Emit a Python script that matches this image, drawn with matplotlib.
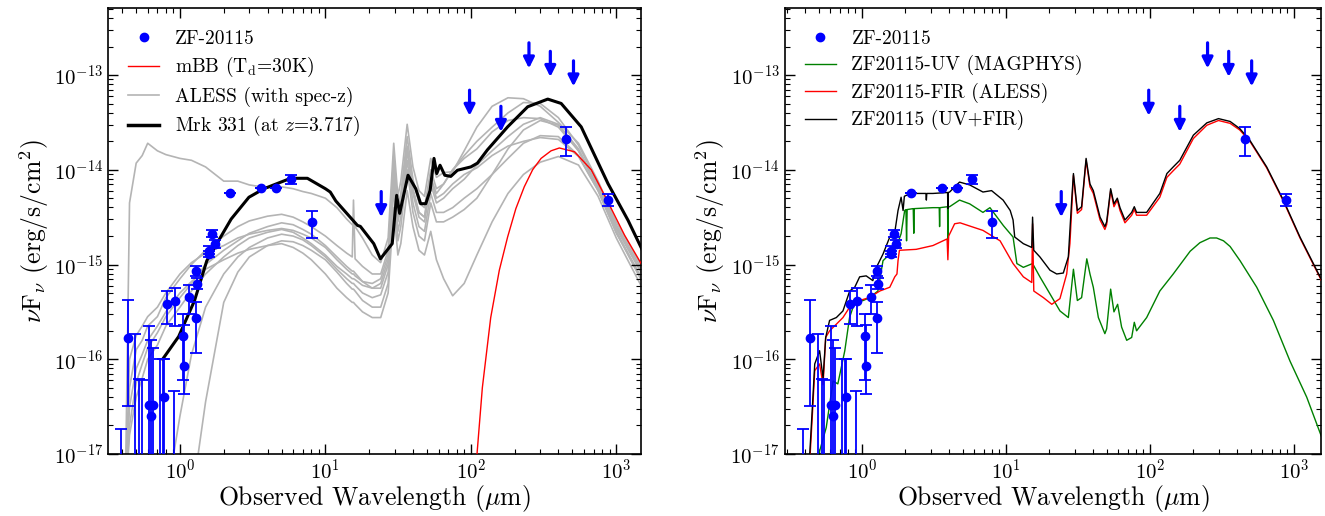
import matplotlib
matplotlib.use('Agg')
import matplotlib.pyplot as plt
from matplotlib.lines import Line2D
import numpy as np

plt.rcParams['font.family'] = 'serif'
plt.rcParams['font.serif'] = ['cmr10']
plt.rcParams['mathtext.fontset'] = 'cm'
plt.rcParams['axes.formatter.use_mathtext'] = True

# ---- ZF-20115 photometry (um, erg/s/cm2), lower / upper ends of error bars
phot_wave = [0.392, 0.436, 0.492, 0.524, 0.547, 0.608, 0.648, 0.634, 0.73, 0.76,
             0.78, 0.905, 0.82, 0.92, 1.05, 1.07, 1.15, 1.28, 1.30, 1.28,
             1.58, 1.58, 1.66, 1.73, 2.20, 3.62, 4.57, 5.83, 8.05, 454, 881]
phot_flux = [3e-18, 1.66e-16, 3e-18, 3e-18, 3e-18, 3.3e-17, 3.3e-17, 2.5e-17, 3e-18, 3e-18,
             4.0e-17, 3e-18, 3.84e-16, 4.1e-16, 1.74e-16, 8.5e-17, 4.5e-16, 8.5e-16, 6.3e-16, 2.75e-16,
             1.4e-15, 1.3e-15, 2.11e-15, 1.63e-15, 5.7e-15, 6.4e-15, 6.4e-15, 7.9e-15, 2.8e-15, 2.09e-14, 4.84e-15]
phot_lo = [2e-18, 3.2e-17, 2e-18, 2e-18, 2e-18, 2e-18, 2e-18, 2e-18, 2e-18, 2e-18,
           2e-18, 2e-18, 2.34e-16, 2.26e-16, 6e-17, 4.3e-17, 3.0e-16, 7.5e-16, 5.5e-16, 1.17e-16,
           1.3e-15, 1.2e-15, 1.95e-15, 1.5e-15, 5.7e-15, 6.4e-15, 6.4e-15, 7.1e-15, 1.92e-15, 1.39e-14, 4.1e-15]
phot_hi = [1.84e-17, 4.2e-16, 1.86e-16, 6.2e-17, 6.0e-17, 2.26e-16, 1.33e-16, 1.6e-16, 1.0e-16, 1.0e-16,
           1.0e-16, 4.6e-17, 5.2e-16, 5.7e-16, 3.0e-16, 2.3e-16, 6.1e-16, 9.6e-16, 7.2e-16, 4.0e-16,
           1.55e-15, 1.4e-15, 2.3e-15, 1.8e-15, 5.7e-15, 6.4e-15, 6.4e-15, 8.9e-15, 3.66e-15, 2.8e-14, 5.5e-15]

# upper limits (arrow tips)
ulim_wave = [24.2, 98, 161, 251, 352, 508]
ulim_logf = [-14.50, -13.43, -13.60, -12.93, -13.02, -13.12]

# ---- left panel models (log10 nuFnu)
mbb_wave = [110, 120, 137, 157, 179, 204, 233, 266, 304, 356, 406, 516, 673, 877, 1140, 1535]
mbb_logf = [-17.02, -16.30, -15.56, -15.06, -14.71, -14.41, -14.18, -14.0, -13.88, -13.80,
            -13.77, -13.81, -14.0, -14.34, -14.69, -15.03]

mrk_wave = [0.76, 0.98, 1.26, 1.53, 2.25, 2.98, 3.78, 5.77, 7.52, 10.0,
            10.8, 11.8, 16.6, 17.4, 21.5, 23.9, 28.8, 30.9, 32.4, 37.0,
            41.8, 45.2, 49.0, 52.5, 55.8, 58.3, 61.4, 66.2, 72.8, 80.9,
            100, 111, 130, 179, 246, 338, 418, 574, 877, 1205, 1535]
mrk_logf = [-16.0, -15.76, -15.38, -14.96, -14.52, -14.29, -14.20, -14.09, -14.09, -14.20,
            -14.235, -14.33, -14.587, -14.598, -14.78, -14.94, -14.78, -14.27, -14.46, -14.058,
            -14.20, -14.358, -14.358, -14.217, -13.88, -14.04, -13.952, -14.058, -14.07, -14.005,
            -13.97, -13.93, -13.79, -13.547, -13.335, -13.254, -13.30, -13.547, -14.146, -14.534, -14.87]

aless_wave = [0.42, 0.45, 0.5, 0.55, 0.6, 0.7, 0.8, 1.0, 1.2, 1.5,
              2.0, 2.5, 3.0, 4.0, 5.0, 6.0, 7.0, 8.0, 10, 12,
              14, 15.3, 15.6, 16, 18, 21, 24, 27, 29.5, 31.5,
              33, 36.5, 40, 44, 48, 53, 58, 65, 75, 90,
              110, 140, 180, 230, 300, 400, 550, 750, 1000, 1500]
aless_logf = [
    [-17.5, -14.35, -13.93, -13.85, -13.72, -13.80, -13.84, -13.88, -13.90, -13.97,
     -14.12, -14.12, -14.16, -14.19, -14.18, -14.20, -14.23, -14.25, -14.30, -14.40,
     -14.52, -14.58, -14.58, -14.60, -14.72, -14.90, -14.98, -14.72, -13.72, -14.28,
     -14.12, -13.52, -13.97, -14.22, -14.28, -13.88, -14.08, -14.03, -14.02, -13.80,
     -13.55, -13.33, -13.24, -13.25, -13.33, -13.50, -13.72, -14.12, -14.55, -15.02],
    [-17.5, -16.3, -15.9, -15.8, -15.65, -15.55, -15.35, -15.15, -15.0, -14.85,
     -14.7, -14.6, -14.54, -14.49, -14.47, -14.5, -14.55, -14.6, -14.7, -14.8,
     -14.88, -14.92, -14.32, -14.94, -15.02, -15.1, -15.1, -14.85, -13.85, -14.4,
     -14.25, -13.65, -14.1, -14.35, -14.4, -14.0, -14.2, -14.15, -14.0, -13.85,
     -13.7, -13.55, -13.4, -13.29, -13.3, -13.45, -13.74, -14.15, -14.58, -15.05],
    [-17.5, -16.7, -16.25, -16.05, -15.88, -15.72, -15.55, -15.35, -15.2, -15.0,
     -14.85, -14.75, -14.67, -14.6, -14.56, -14.58, -14.63, -14.68, -14.8, -14.92,
     -15.02, -15.07, -15.07, -15.09, -15.18, -15.25, -15.25, -15.0, -14.0, -14.55,
     -14.4, -13.8, -14.25, -14.5, -14.55, -14.15, -14.35, -14.3, -14.2, -14.1,
     -13.95, -13.8, -13.65, -13.52, -13.45, -13.52, -13.78, -14.18, -14.62, -15.1],
    [-17.5, -17.5, -17.5, -17.5, -17.5, -17.5, -17.5, -17.5, -17.5, -16.45,
     -15.4, -15.08, -14.92, -14.8, -14.75, -14.76, -14.8, -14.85, -14.95, -15.08,
     -15.2, -15.26, -15.26, -15.28, -15.38, -15.45, -15.45, -15.2, -14.2, -14.75,
     -14.6, -14.0, -14.45, -14.7, -14.75, -14.35, -14.55, -14.55, -14.5, -14.42,
     -14.3, -14.05, -13.78, -13.58, -13.48, -13.53, -13.8, -14.2, -14.65, -15.15],
    [-17.5, -17.5, -17.5, -17.5, -17.5, -17.5, -17.5, -16.6, -15.95, -15.45,
     -15.1, -14.92, -14.82, -14.72, -14.68, -14.7, -14.74, -14.8, -14.92, -15.05,
     -15.15, -15.2, -15.2, -15.22, -15.3, -15.35, -15.32, -15.08, -14.1, -14.65,
     -14.5, -13.9, -14.35, -14.6, -14.65, -14.25, -14.45, -14.45, -14.4, -14.3,
     -14.2, -14.05, -13.88, -13.72, -13.64, -13.65, -13.85, -14.22, -14.66, -15.18],
    [-17.5, -16.5, -16.1, -15.95, -15.8, -15.65, -15.5, -15.3, -15.18, -15.05,
     -14.95, -14.88, -14.84, -14.8, -14.78, -14.82, -14.88, -14.95, -15.1, -15.25,
     -15.35, -15.4, -15.4, -15.42, -15.5, -15.56, -15.56, -15.3, -14.4, -14.9,
     -14.78, -14.22, -14.6, -14.85, -14.9, -14.65, -14.95, -15.15, -15.33, -15.2,
     -14.9, -14.55, -14.25, -14.05, -13.92, -13.86, -13.95, -14.28, -14.72, -15.24],
    [-17.5, -16.0, -15.75, -15.65, -15.55, -15.45, -15.3, -15.1, -14.98, -14.88,
     -14.8, -14.72, -14.68, -14.64, -14.62, -14.64, -14.68, -14.72, -14.82, -14.95,
     -15.05, -15.1, -15.1, -15.12, -15.18, -15.2, -15.15, -14.9, -13.95, -14.5,
     -14.35, -13.75, -14.2, -14.45, -14.5, -14.1, -14.3, -14.25, -14.15, -14.05,
     -13.98, -13.85, -13.75, -13.7, -13.66, -13.68, -13.86, -14.22, -14.67, -15.15],
    [-17.5, -16.8, -16.4, -16.2, -16.0, -15.85, -15.65, -15.45, -15.28, -15.1,
     -14.92, -14.8, -14.72, -14.66, -14.63, -14.66, -14.72, -14.78, -14.9, -15.02,
     -15.1, -15.15, -15.15, -15.16, -15.22, -15.25, -15.2, -14.95, -13.98, -14.52,
     -14.38, -13.78, -14.22, -14.45, -14.5, -14.08, -14.25, -14.15, -14.0, -13.88,
     -13.78, -13.6, -13.48, -13.45, -13.46, -13.55, -13.8, -14.18, -14.6, -15.08],
]

# ---- right panel models (log10 nuFnu)
sum_wave = [0.434, 0.454, 0.47, 0.508, 0.537, 0.56, 0.596, 0.664, 0.738, 0.822,
            0.891, 0.964, 1.07, 1.19, 1.26, 1.40, 1.56, 1.69, 1.78, 1.87,
            1.93, 1.97, 2.03, 2.38, 2.78, 2.80, 2.82, 3.11, 3.93, 3.95, 3.97, 4.06,
            4.76, 5.60, 6.92, 7.94, 9.55, 10.7, 11.2, 11.5, 13.2, 15.1, 15.3, 15.6,
            17.2, 20.2, 22.5, 25.0, 27.1, 28.6, 29.4, 31.3, 33.5, 36.0,
            38.3, 40.4, 45.0, 48.6, 50.0, 53.3, 56.2, 59.3, 61.9, 67.0,
            74.6, 77.8, 80.7, 94.8, 117, 131, 145, 161, 200, 248,
            299, 360, 420, 494, 646, 843, 1100, 1563]
sum_logf = [-17.0, -16.47, -16.05, -15.91, -16.2, -15.77, -15.59, -15.56, -15.49, -15.28,
            -15.24, -15.13, -15.12, -15.17, -15.03, -14.89, -14.71, -14.66, -14.43, -14.29,
            -14.43, -14.28, -14.27, -14.25, -14.25, -14.32, -14.25, -14.25, -14.24, -14.41, -14.24, -14.235,
            -14.13, -14.16, -14.235, -14.22, -14.32, -14.43, -14.53, -14.71, -14.78, -14.82, -14.5, -14.85,
            -14.92, -15.06, -15.10, -15.09, -14.92, -14.32, -14.04, -14.43, -14.39, -13.88,
            -14.15, -14.22, -14.5, -14.6, -14.55, -14.2, -14.36, -14.30, -14.4, -14.53,
            -14.45, -14.39, -14.45, -14.45, -14.25, -14.04, -13.97, -13.90, -13.635, -13.505,
            -13.46, -13.49, -13.565, -13.69, -13.97, -14.32, -14.71, -15.17]

fir_wave = [0.437, 0.454, 0.47, 0.508, 0.537, 0.56, 0.596, 0.664, 0.738, 0.822,
            0.964, 1.12, 1.33, 1.56, 1.69, 1.75, 1.78, 1.82, 2.38, 3.11,
            3.90, 3.95, 4.0, 4.4, 4.8, 6.92, 9.1, 11.2, 13.2, 15.1,
            15.3, 15.6, 18.2, 20.8, 23.7, 26.4, 27.8, 29.4, 31.3, 33.5,
            36.0, 38.3, 40.4, 45.0, 48.6, 50.0, 53.3, 56.2, 59.3, 61.9,
            67.0, 74.6, 77.8, 80.7, 94.8, 117, 131, 145, 161, 200,
            248, 299, 360, 420, 494, 646, 843, 1100, 1563]
fir_logf = [-17.0, -16.55, -16.12, -16.05, -16.27, -15.77, -15.70, -15.63, -15.56, -15.45,
            -15.38, -15.35, -15.28, -15.24, -15.13, -15.10, -14.96, -14.85, -14.84, -14.80,
            -14.73, -14.95, -14.70, -14.57, -14.56, -14.64, -14.75, -14.99, -15.13, -15.19,
            -14.57, -15.28, -15.35, -15.42, -15.36, -15.10, -14.78, -14.06, -14.46, -14.42,
            -13.90, -14.18, -14.25, -14.53, -14.63, -14.58, -14.22, -14.39, -14.32, -14.43,
            -14.56, -14.48, -14.42, -14.48, -14.48, -14.29, -14.08, -14.01, -13.94, -13.67,
            -13.53, -13.48, -13.51, -13.58, -13.70, -13.98, -14.33, -14.72, -15.18]

uv_wave = [0.50, 0.508, 0.565, 0.63, 0.68, 0.76, 0.82, 0.89, 1.02, 1.13,
           1.29, 1.40, 1.56, 1.73, 1.87, 1.98, 2.02, 2.04, 2.06, 2.27,
           2.29, 2.31, 3.11, 3.44, 3.46, 3.48, 3.93, 3.95, 3.97, 4.06,
           4.76, 5.60, 6.92, 7.74, 9.6, 11.2, 11.9, 13.2, 15.3, 17.2,
           20.2, 23.7, 27.1, 29.4, 31.3, 33.5, 36.4, 38.3, 40.4, 43.8,
           48.6, 50.0, 53.3, 56.2, 59.6, 63.5, 68.9, 74.6, 77.8, 80.7,
           94.8, 117, 145, 190, 222, 261, 290, 324, 360, 422,
           551, 719, 938, 1225, 1563]
uv_logf = [-17.3, -16.97, -16.72, -16.23, -16.26, -15.91, -15.56, -15.40, -15.38, -15.35,
           -15.28, -14.96, -14.89, -14.82, -14.675, -14.43, -14.42, -14.75, -14.42, -14.41,
           -14.67, -14.41, -14.40, -14.40, -14.6, -14.40, -14.39, -14.82, -14.39, -14.39,
           -14.32, -14.36, -14.45, -14.40, -14.59, -14.71, -14.99, -15.03, -14.99, -15.13,
           -15.31, -15.49, -15.56, -15.05, -15.38, -15.35, -14.94, -15.1, -15.24, -15.56,
           -15.73, -15.68, -15.26, -15.5, -15.42, -15.66, -15.80, -15.77, -15.61, -15.70,
           -15.56, -15.28, -15.10, -14.86, -14.77, -14.72, -14.72, -14.75, -14.81, -14.96,
           -15.24, -15.59, -16.02, -16.40, -16.83]

BLUE = '#0000ff'
GRAY = '#b4b4b4'


def common(ax, xlim):
    lo = np.array(phot_flux) - np.array(phot_lo)
    hi = np.array(phot_hi) - np.array(phot_flux)
    ax.errorbar(phot_wave, phot_flux, yerr=[lo, hi], fmt='o', color=BLUE, ms=6,
                capsize=4, elinewidth=1.3, capthick=1.3, zorder=6)
    for w, lf in zip(ulim_wave, ulim_logf):
        ax.annotate('', xy=(w, 10 ** lf), xytext=(w, 10 ** (lf + 0.27)),
                    arrowprops=dict(arrowstyle='-|>', color=BLUE, lw=2.3,
                                    mutation_scale=16, shrinkA=0, shrinkB=0), zorder=7)
    ax.set_xscale('log')
    ax.set_yscale('log')
    ax.set_xticks([1, 10, 100, 1000])
    ax.set_yticks([1e-17, 1e-16, 1e-15, 1e-14, 1e-13])
    ax.set_xlim(*xlim)
    ax.set_ylim(1e-17, 5.1e-13)
    ax.tick_params(which='both', direction='in', top=True, right=True, labelsize=15)
    ax.tick_params(which='major', length=7, width=1)
    ax.tick_params(which='minor', length=3.5, width=0.8)
    for s in ax.spines.values():
        s.set_linewidth(1.2)
    ax.set_xlabel(r'Observed Wavelength ($\mu$m)', fontsize=18.5, labelpad=0)
    ax.set_ylabel(r'$\nu$F$_\nu$ (erg/s/cm$^2$)', fontsize=18.5, labelpad=2)


fig = plt.figure(figsize=(13.25, 5.16), dpi=100)
ax1 = fig.add_axes([0.0815, 0.1202, 0.4023, 0.8643])
ax2 = fig.add_axes([0.5921, 0.1202, 0.4049, 0.8643])

# left panel
for tpl in aless_logf:
    ax1.plot(aless_wave, 10 ** np.array(tpl), color=GRAY, lw=1.2, zorder=1)
ax1.plot(mbb_wave, 10 ** np.array(mbb_logf), color='red', lw=1.0, zorder=3)
ax1.plot(mrk_wave, 10 ** np.array(mrk_logf), color='black', lw=2.2, zorder=4)
common(ax1, (0.32, 1480))

h = [Line2D([], [], marker='o', ls='none', color=BLUE, ms=6),
     Line2D([], [], color='red', lw=1.0),
     Line2D([], [], color=GRAY, lw=1.2),
     Line2D([], [], color='black', lw=2.5)]
ax1.legend(h, ['ZF-20115', r'mBB (T$_{\rm d}$=30K)', 'ALESS (with spec-z)',
               r'Mrk 331 (at $z$=3.717)'],
           loc='upper left', bbox_to_anchor=(0.005, 0.99), frameon=False, fontsize=14,
           handlelength=1.6, handletextpad=0.8, labelspacing=0.38, numpoints=1)

# right panel
ax2.plot(uv_wave, 10 ** np.array(uv_logf), color='green', lw=1.0, zorder=2)
ax2.plot(fir_wave, 10 ** np.array(fir_logf), color='red', lw=1.0, zorder=3)
ax2.plot(sum_wave, 10 ** np.array(sum_logf), color='black', lw=1.0, zorder=4)
common(ax2, (0.29, 1540))

h = [Line2D([], [], marker='o', ls='none', color=BLUE, ms=6),
     Line2D([], [], color='green', lw=1.0),
     Line2D([], [], color='red', lw=1.0),
     Line2D([], [], color='black', lw=1.0)]
ax2.legend(h, ['ZF-20115', 'ZF20115-UV (MAGPHYS)', 'ZF20115-FIR (ALESS)',
               'ZF20115 (UV+FIR)'],
           loc='upper left', bbox_to_anchor=(0.005, 0.99), frameon=False, fontsize=14,
           handlelength=1.6, handletextpad=0.8, labelspacing=0.38, numpoints=1)

fig.savefig('out.png', dpi=100)
